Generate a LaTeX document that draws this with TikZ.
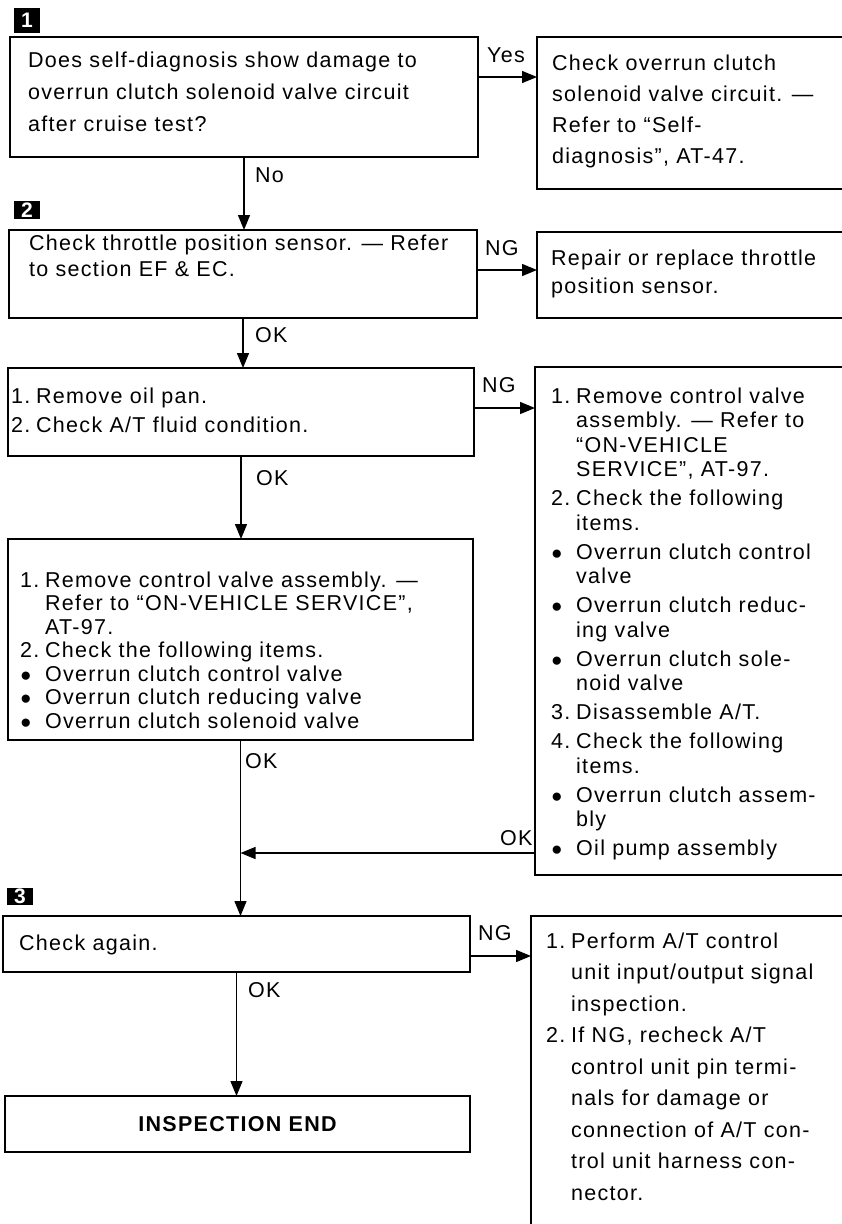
\documentclass[tikz,border=0pt]{standalone}
\usepackage{fontspec}
\setmainfont{Liberation Sans}[LetterSpace=6]
\usetikzlibrary{arrows.meta}

\newcommand{\num}[1]{\makebox[25pt][l]{#1}}
\newcommand{\ind}{\hspace*{25pt}}
\newcommand{\bul}{\makebox[25pt][l]{\fontsize{19}{19}\selectfont ●}}

\begin{document}
\begin{tikzpicture}[x=1pt, y=-1pt,
  box/.style={draw, line width=1.4pt, inner sep=0pt, outer sep=0pt},
  txt/.style={anchor=north west, align=left, inner sep=0pt, font=\fontsize{21.5}{31.5}\selectfont},
  lbl/.style={anchor=base west, inner sep=0pt, font=\fontsize{21.5}{24}\selectfont},
  marker/.style={fill=black, text=white, inner sep=0pt, minimum width=26pt, font=\bfseries\fontsize{21}{21}\selectfont},
  arr/.style={line width=1.4pt, -{Triangle[length=15pt, width=12pt]}}
]
\useasboundingbox (0,0) rectangle (841,1224);

% step markers
\node[marker, minimum height=25pt] (s1) at (27,20.5) {1};
\node[marker, minimum height=18pt] (s2) at (27,210) {2};
\node[marker, minimum height=17pt] (s3) at (20,896.5) {3};

% boxes, left column (checks)
\node[box, minimum width=468pt, minimum height=120pt] (q1) at (244,97) {};
\node[box, minimum width=468pt, minimum height=88pt] (q2) at (243,274) {};
\node[box, minimum width=466pt, minimum height=88pt] (q3) at (241,412) {};
\node[box, minimum width=465pt, minimum height=201pt] (q4) at (240.5,639.5) {};
\node[box, minimum width=467pt, minimum height=56pt] (q5) at (236.5,944) {};
\node[box, minimum width=465pt, minimum height=56pt, font=\bfseries\fontsize{21.5}{24}\selectfont] (q6) at (237.5,1124) {INSPECTION END};

% boxes, right column (repairs)
\node[box, minimum width=313pt, minimum height=152pt] (a1) at (693.5,113) {};
\node[box, minimum width=313pt, minimum height=86pt] (a2) at (693.5,275) {};
\node[box, minimum width=315pt, minimum height=508pt] (a3) at (692.5,621) {};
\node[box, minimum width=319pt, minimum height=324pt] (a5) at (690.5,1078) {};

% texts
\node[txt, font=\fontsize{21.5}{32}\selectfont] (t1) at (28,51.5) {Does self-diagnosis show damage to\\overrun clutch solenoid valve circuit\\after cruise test?};
\node[txt, font=\fontsize{21.5}{31}\selectfont] (t2) at (552,54.5) {Check overrun clutch\\solenoid valve circuit. —\\Refer to “Self-\\diagnosis”, AT-47.};
\node[txt, font=\fontsize{21.5}{26}\selectfont] (t3) at (29,234.5) {Check throttle position sensor. — Refer\\to section EF \& EC.};
\node[txt, font=\fontsize{21.5}{28}\selectfont] (t4) at (551,249.5) {Repair or replace throttle\\position sensor.};
\node[txt, font=\fontsize{21.5}{29}\selectfont] (t5) at (11,387.5) {\num{1.}Remove oil pan.\\\num{2.}Check A/T fluid condition.};
\node[txt, font=\fontsize{21.5}{24.5}\selectfont] (t6) at (551,387.5) {\num{1.}Remove control valve\\
  \ind assembly. — Refer to\\ \ind “ON-VEHICLE\\ \ind SERVICE”, AT-97.\\[4.5pt]
  \num{2.}Check the following\\ \ind items.\\[4.5pt]
  \bul Overrun clutch control\\ \ind valve\\[4.5pt]
  \bul Overrun clutch reduc-\\ \ind ing valve\\[4.5pt]
  \bul Overrun clutch sole-\\ \ind noid valve\\[4.5pt]
  \num{3.}Disassemble A/T.\\[4.5pt]
  \num{4.}Check the following\\ \ind items.\\[4.5pt]
  \bul Overrun clutch assem-\\ \ind bly\\[4.5pt]
  \bul Oil pump assembly};
\node[txt, font=\fontsize{21.5}{23.5}\selectfont] (t7) at (20,571.5) {\num{1.}Remove control valve assembly. —\\
  \ind Refer to “ON-VEHICLE SERVICE”,\\ \ind AT-97.\\
  \num{2.}Check the following items.\\
  \bul Overrun clutch control valve\\
  \bul Overrun clutch reducing valve\\
  \bul Overrun clutch solenoid valve};
\node[txt] (t8) at (19,934.5) {Check again.};
\node[txt] (t9) at (546,932.5) {\num{1.}Perform A/T control\\
  \ind unit input/output signal\\ \ind inspection.\\
  \num{2.}If NG, recheck A/T\\ \ind control unit pin termi-\\ \ind nals for damage or\\
  \ind connection of A/T con-\\ \ind trol unit harness con-\\ \ind nector.};

% connectors
\coordinate (join) at (240.5,853);
\draw[arr] ([yshift=20pt]q1.east) -- ([yshift=20pt]q1.east -| a1.west);
\draw[arr] (q1.south) -- (q1.south |- q2.north);
\draw[arr] ([yshift=4pt]q2.east) -- ([yshift=4pt]q2.east -| a2.west);
\draw[arr] (q2.south) -- (q2.south |- q3.north);
\draw[arr] ([yshift=4pt]q3.east) -- ([yshift=4pt]q3.east -| a3.west);
\draw[arr] (q3.south) -- (q3.south |- q4.north);
\draw[arr] (q4.south) -- (q4.south |- q5.north);
\draw[arr] (a3.west |- join) -- (join);
\draw[arr] ([yshift=-12pt]q5.east) -- ([yshift=-12pt]q5.east -| a5.west);
\draw[arr] (q5.south) -- (q5.south |- q6.north);

% branch labels
\node[lbl] (yes1) at (487,62) {Yes};
\node[lbl] (no1) at (255,182) {No};
\node[lbl] (ng2) at (485,255) {NG};
\node[lbl] (ok2) at (255,342) {OK};
\node[lbl] (ng3) at (482,392) {NG};
\node[lbl] (ok3) at (256,485) {OK};
\node[lbl] (ok4) at (245,768) {OK};
\node[lbl] (ok6) at (500,845) {OK};
\node[lbl] (ng5) at (478,940) {NG};
\node[lbl] (ok5) at (248,997) {OK};
\end{tikzpicture}
\end{document}
